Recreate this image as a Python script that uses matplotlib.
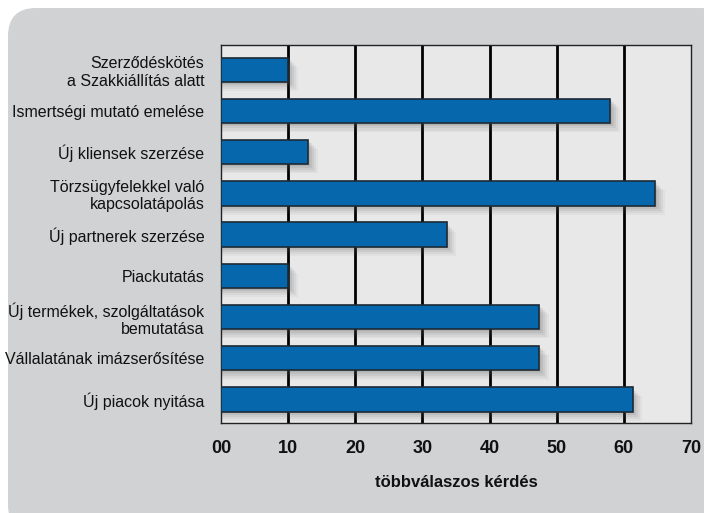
import matplotlib.pyplot as plt
from matplotlib import font_manager
from matplotlib.patches import FancyBboxPatch

# adatok
kategoriak = [
    "Szerződéskötés\na Szakkiállítás alatt",
    "Ismertségi mutató emelése",
    "Új kliensek szerzése",
    "Törzsügyfelekkel való\nkapcsolatápolás",
    "Új partnerek szerzése",
    "Piackutatás",
    "Új termékek, szolgáltatások\nbemutatása",
    "Vállalatának imázserősítése",
    "Új piacok nyitása",
]
ertekek = [10, 58, 13, 64.7, 33.6, 10, 47.4, 47.4, 61.3]
x_ticks = [0, 10, 20, 30, 40, 50, 60, 70]
x_ticklabels = ["00", "10", "20", "30", "40", "50", "60", "70"]

names = sorted({f.name for f in font_manager.fontManager.ttflist})
narrow = "Liberation Sans Narrow" if "Liberation Sans Narrow" in names else "Liberation Sans"
plt.rcParams['font.family'] = [narrow, 'DejaVu Sans']

fig = plt.figure(figsize=(7.04, 5.13), dpi=100)
fig.patch.set_facecolor("white")

# szürke lekerekített háttér
W, H = 704, 513
bg = FancyBboxPatch((8 / W, -20 / H), 720 / W, (H - 8 + 20) / H,
                    boxstyle="round,pad=0,rounding_size=0.04",
                    transform=fig.transFigure, facecolor="#d1d2d4",
                    edgecolor="none", zorder=-5, mutation_aspect=W / H)
fig.patches.append(bg)

ax = fig.add_axes([221 / W, 1 - 423 / H, (691 - 221) / W, (423 - 45) / H])
ax.set_facecolor("#e8e8e8")

y = list(range(len(kategoriak)))

# rácsvonalak
for t in x_ticks[1:-1]:
    ax.axvline(t, color="black", lw=2, zorder=1)

# árnyék (elmosott)
for dx, dy, a in [(1.4, 0.22, 0.05), (1.1, 0.18, 0.07), (0.8, 0.13, 0.09),
                  (0.5, 0.08, 0.11), (0.25, 0.04, 0.12)]:
    ax.barh([v + dy for v in y], [e + dx for e in ertekek], height=0.59,
            color="#555555", alpha=a, lw=0, zorder=2)

ax.barh(y, ertekek, height=0.59, color="#0767ad", edgecolor="#1c2a36",
        lw=1.2, zorder=3)

ax.set_xlim(0, 70)
ax.set_ylim(8.57, -0.6)
ax.set_yticks(y)
ax.set_yticklabels(kategoriak, fontsize=11.5, color="#111111")
ax.set_xticks(x_ticks)
ax.set_xticklabels(x_ticklabels, fontsize=13, fontweight="bold",
                   family=['Liberation Sans', 'DejaVu Sans'], color="#111111")
ax.tick_params(axis="y", length=0, pad=12)
ax.tick_params(axis="x", length=0, pad=12)
for s in ax.spines.values():
    s.set_color("#222222")
    s.set_linewidth(1)

ax.set_xlabel("többválaszos kérdés", fontsize=12, fontweight="bold",
              family=['Liberation Sans', 'DejaVu Sans'], labelpad=13,
              color="#111111")

fig.savefig("out.png", dpi=100)
